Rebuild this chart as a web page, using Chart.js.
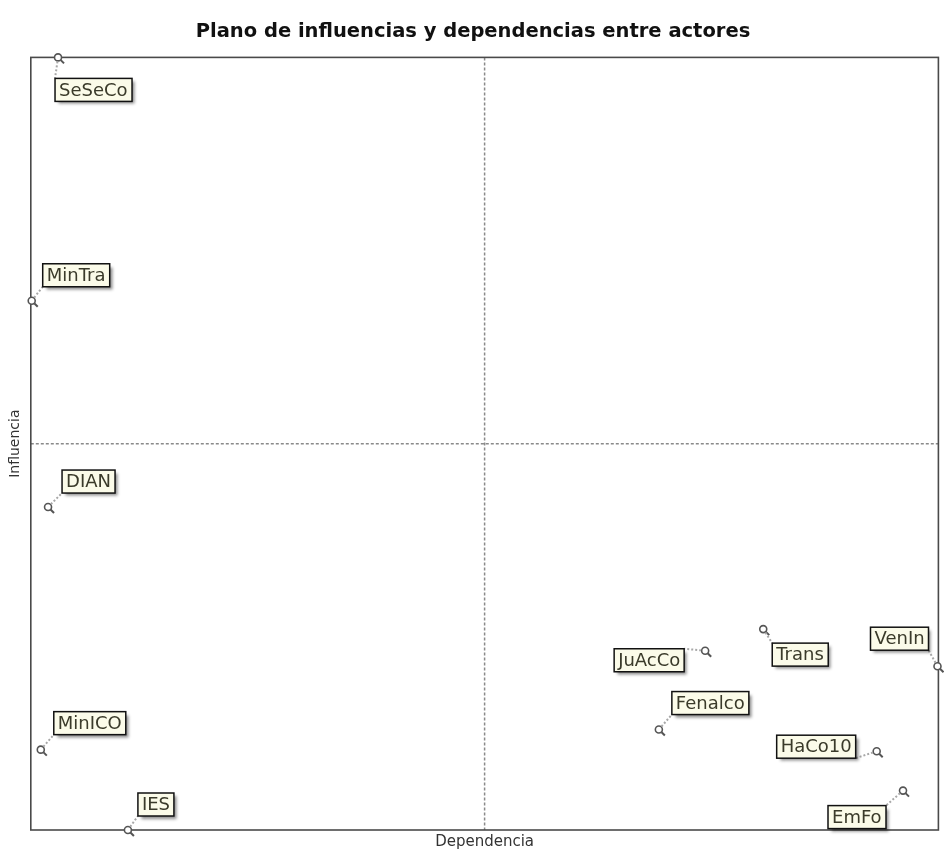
<!DOCTYPE html>
<html>
<head>
<meta charset="utf-8">
<title>Plano de influencias y dependencias entre actores</title>
<script src="https://cdn.jsdelivr.net/npm/chart.js@4/dist/chart.umd.min.js"></script>
<style>
  html, body { margin: 0; padding: 0; background: #fff; }
  #wrap { width: 944px; height: 851px; }
</style>
</head>
<body>
<div id="wrap"><canvas id="mapa"></canvas></div>
<script>
// actores y coordenadas (dependencia, influencia) en escala 0-100
const actors = ['SeSeCo', 'MinTra', 'DIAN', 'MinICO', 'IES', 'JuAcCo', 'Trans', 'VenIn', 'Fenalco', 'HaCo10', 'EmFo'];
const dependencia = [3.0, 0.1, 1.9, 1.1, 10.7, 74.3, 80.7, 99.9, 69.2, 93.2, 96.1];
const influencia = [100, 68.5, 41.8, 10.4, 0, 23.2, 26.0, 21.2, 13.0, 10.2, 5.1];
const axisMin = 0;
const axisMax = 100;
const centerValue = 50;

// where each label box sits relative to its point: [dx, dy, anchored edge]
const labelPlacement = [
  [-3, 21, 'left'], [11, -37, 'left'], [14, -37, 'left'], [13, -38, 'left'],
  [10, -37, 'left'], [-21, -2, 'right'], [9, 14, 'left'], [-9, -39, 'right'],
  [13, -38, 'left'], [-21, -16, 'right'], [-17, 15, 'right']
];

const LABEL_FONT = '18px "DejaVu Sans", sans-serif';
const BOX_H = 23;
const BOX_PAD = 4;

const framePlugin = {
  id: 'frame',
  beforeDatasetsDraw(chart) {
    const { ctx, chartArea: a, scales } = chart;
    const cx = scales.x.getPixelForValue(centerValue);
    const cy = scales.y.getPixelForValue(centerValue);
    ctx.save();
    ctx.strokeStyle = '#8a8a8a';
    ctx.lineWidth = 1.5;
    ctx.setLineDash([3, 2]);
    ctx.beginPath();
    ctx.moveTo(cx, a.top); ctx.lineTo(cx, a.bottom);
    ctx.moveTo(a.left, cy); ctx.lineTo(a.right, cy);
    ctx.stroke();
    ctx.setLineDash([]);
    ctx.strokeStyle = '#4a4a4a';
    ctx.lineWidth = 1.6;
    ctx.strokeRect(a.left, a.top, a.right - a.left, a.bottom - a.top);
    ctx.restore();
  }
};

const labelPlugin = {
  id: 'actorLabels',
  beforeDatasetsDraw(chart) {
    // small pin tails under the point markers
    const { ctx, scales } = chart;
    ctx.save();
    ctx.strokeStyle = '#555';
    ctx.lineWidth = 2;
    actors.forEach((_n, i) => {
      const px = scales.x.getPixelForValue(dependencia[i]);
      const py = scales.y.getPixelForValue(influencia[i]);
      ctx.beginPath();
      ctx.moveTo(px + 2, py + 2);
      ctx.lineTo(px + 6, py + 6);
      ctx.stroke();
    });
    ctx.restore();
  },
  afterDatasetsDraw(chart) {
    const { ctx, scales } = chart;
    ctx.save();
    ctx.font = LABEL_FONT;
    actors.forEach((name, i) => {
      const px = scales.x.getPixelForValue(dependencia[i]);
      const py = scales.y.getPixelForValue(influencia[i]);
      const [dx, dy, edge] = labelPlacement[i];
      const w = Math.round(ctx.measureText(name).width) + BOX_PAD * 2;
      const left = edge === 'right' ? px + dx - w : px + dx;
      const top = py + dy;

      // connector to the closest corner
      const corners = [[left, top], [left + w, top], [left, top + BOX_H], [left + w, top + BOX_H]];
      let best = corners[0], bd = Infinity;
      corners.forEach((c) => {
        const d = (c[0] - px) ** 2 + (c[1] - py) ** 2;
        if (d < bd) { bd = d; best = c; }
      });
      const ang = Math.atan2(best[1] - py, best[0] - px);
      ctx.strokeStyle = '#a8a8a8';
      ctx.lineWidth = 2;
      ctx.setLineDash([2, 2]);
      ctx.beginPath();
      ctx.moveTo(px + Math.cos(ang) * 4, py + Math.sin(ang) * 4);
      ctx.lineTo(best[0], best[1]);
      ctx.stroke();
      ctx.setLineDash([]);

      // box with soft shadow
      ctx.shadowColor = 'rgba(0,0,0,0.45)';
      ctx.shadowBlur = 3;
      ctx.shadowOffsetX = 3;
      ctx.shadowOffsetY = 3;
      ctx.fillStyle = '#fbfbe9';
      ctx.fillRect(left, top, w, BOX_H);
      ctx.shadowColor = 'transparent';
      ctx.strokeStyle = '#111';
      ctx.lineWidth = 1.5;
      ctx.strokeRect(left, top, w, BOX_H);
      ctx.fillStyle = '#3a3a2a';
      ctx.textBaseline = 'middle';
      ctx.textAlign = 'left';
      ctx.fillText(name, left + BOX_PAD, top + BOX_H / 2 + 1);
    });
    ctx.restore();
  }
};

new Chart(document.getElementById('mapa').getContext('2d'), {
  type: 'scatter',
  data: {
    datasets: [
      {
        label: 'Actores',
        data: actors.map((_a, i) => ({ x: dependencia[i], y: influencia[i] })),
        pointRadius: 3.5,
        pointBackgroundColor: '#ffffff',
        pointBorderColor: '#555555',
        pointBorderWidth: 1.6,
        clip: false
      }
    ]
  },
  options: {
    responsive: true,
    maintainAspectRatio: false,
    animation: false,
    layout: { padding: { left: 7, right: 5, top: 0, bottom: 0 } },
    plugins: {
      legend: { display: false },
      tooltip: { enabled: false },
      title: {
        display: true,
        text: 'Plano de influencias y dependencias entre actores',
        color: '#111',
        font: { family: '"DejaVu Sans", sans-serif', size: 19.5, weight: 'bold' },
        padding: { top: 20, bottom: 14 }
      }
    },
    scales: {
      x: {
        min: axisMin,
        max: axisMax,
        ticks: { display: false, padding: 0 },
        grid: { display: false, drawTicks: false },
        border: { display: false },
        title: {
          display: true,
          text: 'Dependencia',
          color: '#333',
          font: { family: '"DejaVu Sans", sans-serif', size: 15 },
          padding: { top: 3, bottom: 0 }
        }
      },
      y: {
        min: axisMin,
        max: axisMax,
        ticks: { display: false, padding: 0 },
        grid: { display: false, drawTicks: false },
        border: { display: false },
        title: {
          display: true,
          text: 'Influencia',
          color: '#333',
          font: { family: '"DejaVu Sans", sans-serif', size: 14 },
          padding: { top: 0, bottom: 7 }
        }
      }
    }
  },
  plugins: [framePlugin, labelPlugin]
});
</script>
</body>
</html>
